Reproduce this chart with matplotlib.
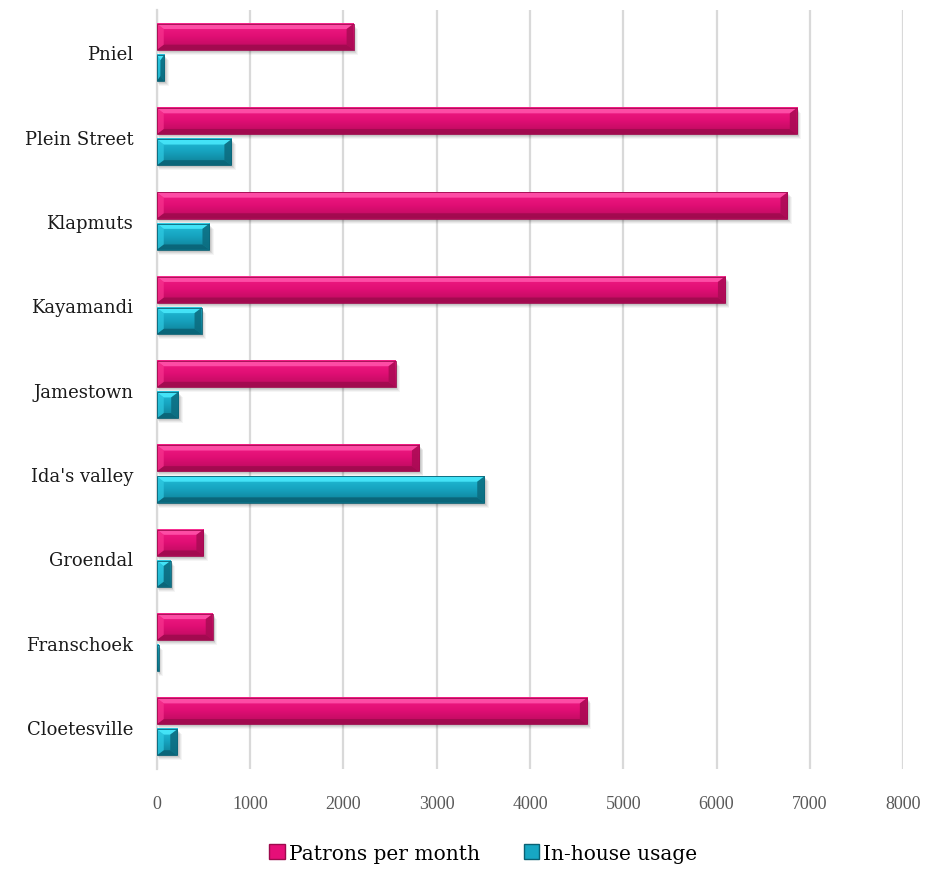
import numpy as np
import matplotlib
matplotlib.use("Agg")
import matplotlib.pyplot as plt
from matplotlib.colors import LinearSegmentedColormap
from matplotlib.patches import Polygon, Rectangle, Patch

# ---- Data ----
libraries = ["Cloetesville", "Franschoek", "Groendal", "Ida's valley", "Jamestown",
             "Kayamandi", "Klapmuts", "Plein Street", "Pniel"]
patrons_per_month = [4610, 600, 500, 2810, 2560, 6090, 6760, 6860, 2110]
in_house_usage = [220, 20, 150, 3510, 230, 480, 565, 800, 80]
x_ticks = [0, 1000, 2000, 3000, 4000, 5000, 6000, 7000, 8000]

# ---- Styles ----
PINK = {"face": "#E60F78", "grad": ["#B80B5C", "#E00E74", "#F21C84"], "top": "#FF52AA",
        "bottom": "#9E0A4D", "left": "#F8348F", "right": "#A90B54"}
TEAL = {"face": "#17A7C3", "grad": ["#0E7D93", "#16A2BE", "#22BFD9"], "top": "#48E8FB",
        "bottom": "#0A6174", "left": "#2FCBE3", "right": "#0C6B7E"}
GRID = "#D9D9D9"
LABEL_FONT = "DejaVu Serif"


def px_scale(ax):
    # data units per pixel along x and y
    t = ax.transData
    p0 = t.transform((0, 0))
    p1 = t.transform((1000, 1))
    return 1000.0 / (p1[0] - p0[0]), 1.0 / (p1[1] - p0[1])


def bevel_bars(ax, bars, shades, bev_px=7):
    dx, dy = px_scale(ax)
    cmap = LinearSegmentedColormap.from_list("g", shades["grad"])
    grad = np.linspace(0, 1, 64).reshape(-1, 1)
    for b in bars:
        x0, y0 = b.get_x(), b.get_y()
        w, h = b.get_width(), b.get_height()
        x1, y1 = x0 + w, y0 + h
        # soft drop shadow
        for k, a in [(5, 0.04), (4, 0.05), (3, 0.07), (2, 0.08)]:
            ax.add_patch(Rectangle((x0 + k * dx * 0.5, y0 - k * dy), w + k * dx * 0.4, h,
                                   facecolor="black", edgecolor="none", alpha=a, zorder=2))
        bx = min(bev_px * dx, w / 2)
        by = min(bev_px * dy * 0.75, h / 2)
        ax.imshow(grad, cmap=cmap, extent=(x0, x1, y0, y1), origin="lower",
                  aspect="auto", interpolation="bilinear", zorder=3)
        polys = [
            ([(x0, y1), (x1, y1), (x1 - bx, y1 - by), (x0 + bx, y1 - by)], shades["top"], 0.9),
            ([(x0, y0), (x1, y0), (x1 - bx, y0 + by), (x0 + bx, y0 + by)], shades["bottom"], 0.85),
            ([(x0, y0), (x0, y1), (x0 + bx, y1 - by), (x0 + bx, y0 + by)], shades["left"], 0.7),
            ([(x1, y0), (x1, y1), (x1 - bx, y1 - by), (x1 - bx, y0 + by)], shades["right"], 0.85),
        ]
        for pts, c, a in polys:
            ax.add_patch(Polygon(pts, closed=True, facecolor=c, edgecolor="none",
                                 alpha=a, zorder=4))
        ax.add_patch(Rectangle((x0, y0), w, h, facecolor="none",
                               edgecolor=shades["bottom"], linewidth=0.6, zorder=5))
        b.set_visible(False)


fig = plt.figure(figsize=(9.33, 8.7), dpi=100)
ax = fig.add_axes([0.168, 0.115, 0.8, 0.872])

y = np.arange(len(libraries))
bar_h = 0.31
off = 0.185
pink_bars = ax.barh(y + off, patrons_per_month, height=bar_h, color=PINK["face"])
teal_bars = ax.barh(y - off, in_house_usage, height=bar_h, color=TEAL["face"])

ax.set_xlim(0, 8000)
ax.set_ylim(-0.5, len(libraries) - 0.5)

bevel_bars(ax, pink_bars, PINK)
bevel_bars(ax, teal_bars, TEAL)
ax.set_xlim(0, 8000)
ax.set_ylim(-0.5, len(libraries) - 0.5)

ax.set_xticks(x_ticks)
ax.set_xticklabels([str(v) for v in x_ticks], fontfamily="Liberation Serif",
                   fontsize=13, color="#595959")
ax.set_yticks(y)
ax.set_yticklabels(libraries, fontfamily=LABEL_FONT, fontsize=13, color="#1a1a1a")
ax.tick_params(axis="x", length=0, pad=19)
ax.tick_params(axis="y", length=0, pad=17)

ax.grid(axis="x", color=GRID, linewidth=1.6, zorder=0)
ax.set_axisbelow(True)
for side in ["top", "right", "bottom"]:
    ax.spines[side].set_visible(False)
ax.spines["left"].set_color(GRID)
ax.spines["left"].set_linewidth(1.6)

handles = [Patch(facecolor=PINK["face"], edgecolor=PINK["bottom"], label="Patrons per month"),
           Patch(facecolor=TEAL["face"], edgecolor=TEAL["bottom"], label="In-house usage")]
fig.legend(handles=handles, loc="center", bbox_to_anchor=(0.518, 0.018), ncol=2,
           frameon=False, prop={"family": LABEL_FONT, "size": 14.5},
           handlelength=0.75, handleheight=0.75, handletextpad=0.2, columnspacing=2.2)

fig.savefig("out.png", dpi=100)
